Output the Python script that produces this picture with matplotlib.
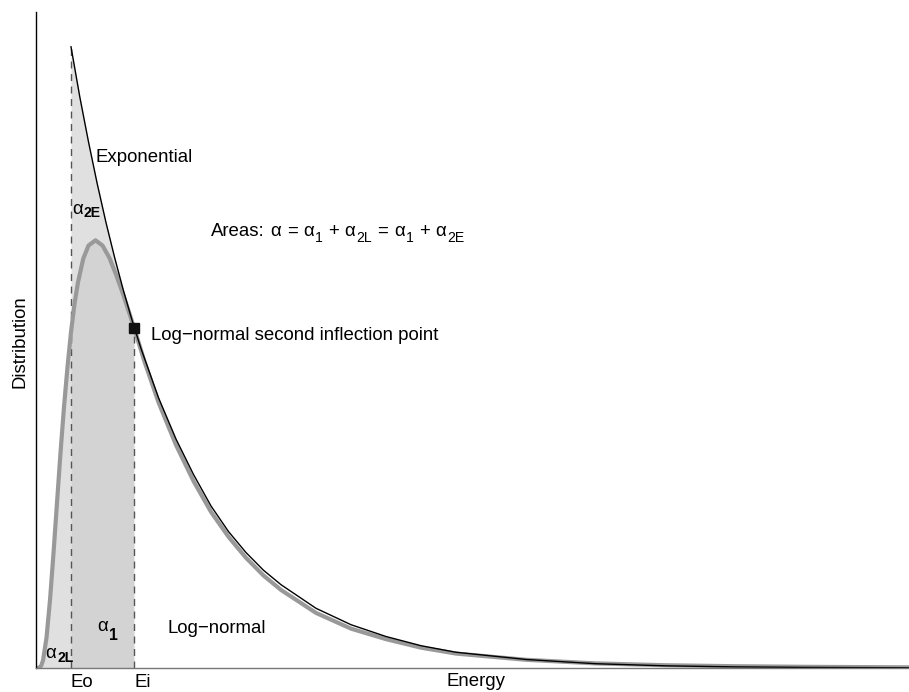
import numpy as np
import matplotlib.pyplot as plt
from matplotlib.font_manager import FontProperties

plt.rcParams['font.family'] = ['Liberation Sans', 'DejaVu Sans']

# energy positions of the two marked levels
e_o = 1.0
e_i = 2.8

# exponential curve (starts at Eo)
exp_x = [1.0, 1.25, 1.5, 1.75, 2.0, 2.25, 2.5, 2.75, 3.0, 3.5, 4.0, 4.5, 5.0,
         5.5, 6.0, 6.5, 7.0, 8.0, 9.0, 10.0, 11.0, 12.0, 14.0, 16.0, 18.0,
         20.0, 22.0, 25.0]
exp_y = [0.947, 0.871, 0.802, 0.738, 0.679, 0.625, 0.575, 0.529, 0.487,
         0.412, 0.349, 0.295, 0.247, 0.208, 0.176, 0.149, 0.127, 0.091,
         0.066, 0.048, 0.034, 0.024, 0.013, 0.0065, 0.0033, 0.0017, 0.0009,
         0.0003]

# log-normal curve
ln_x = [0.0, 0.05, 0.1, 0.15, 0.2, 0.3, 0.4, 0.5, 0.6, 0.7, 0.8, 0.9, 1.0,
        1.1, 1.2, 1.35, 1.5, 1.7, 1.9, 2.1, 2.3, 2.5, 2.8, 3.1, 3.5, 4.0,
        4.5, 5.0, 5.5, 6.0, 6.5, 7.0, 8.0, 9.0, 10.0, 11.0, 12.0, 14.0,
        16.0, 18.0, 20.0, 22.0, 25.0]
ln_y = [0.0, 0.0, 0.0005, 0.0036, 0.0115, 0.046, 0.1035, 0.175, 0.252,
        0.328, 0.398, 0.459, 0.512, 0.555, 0.588, 0.624, 0.644, 0.652,
        0.644, 0.625, 0.598, 0.568, 0.519, 0.467, 0.405, 0.340, 0.285,
        0.238, 0.200, 0.168, 0.141, 0.119, 0.084, 0.060, 0.044, 0.031,
        0.022, 0.0125, 0.0070, 0.0042, 0.0027, 0.0018, 0.0010]

exp_x = np.array(exp_x)
exp_y = np.array(exp_y)
ln_x = np.array(ln_x)
ln_y = np.array(ln_y)
y_i = ln_y[ln_x == e_i][0]

light = '#e0e0e0'
dark = '#d3d3d3'
fs = 13.4

fig = plt.figure(figsize=(9.09, 6.92), dpi=100)
ax = fig.add_axes([36 / 909, 24 / 692, 873 / 909, 656 / 692])
renderer = fig.canvas.get_renderer()


def run_text(x, y, pieces, sub_size=0.75, sub_drop=4.5, sub_weight='normal'):
    """Write text pieces one after another; ('s', txt) is a subscript,
    (' ', None) a word gap."""
    off = 0.0
    for kind, txt in pieces:
        if kind == ' ':
            off += 0.26 * fs
            continue
        sub = kind == 's'
        size = fs * sub_size if sub else fs
        weight = sub_weight if sub else 'normal'
        ax.annotate(txt, (x, y), xytext=(off, -sub_drop if sub else 0),
                    textcoords='offset points', va='baseline',
                    fontsize=size, fontweight=weight)
        prop = FontProperties(family=['Liberation Sans'], size=size,
                              weight=weight)
        w, _, _ = renderer.get_text_width_height_descent(txt, prop, False)
        off += w * 72 / fig.dpi + 0.6


# shaded areas
m = ln_x <= e_o
ax.fill_between(ln_x[m], 0, ln_y[m], color=light, lw=0)
m = exp_x <= e_i
ax.fill_between(exp_x[m], 0, exp_y[m], color=light, lw=0)
m = (ln_x >= e_o) & (ln_x <= e_i)
ax.fill_between(ln_x[m], 0, ln_y[m], color=dark, lw=0)

ax.vlines([e_o], 0, exp_y[0], colors='#555555', lw=1, linestyles=(0, (5, 4)))
ax.vlines([e_i], 0, y_i, colors='#555555', lw=1, linestyles=(0, (5, 4)))

ax.plot(ln_x, ln_y, color='#999999', lw=3, solid_capstyle='butt')
ax.plot(exp_x, exp_y, color='black', lw=1)
ax.plot([e_i], [y_i], 's', color='#111111', ms=7)

ax.text(3.277, 0.50, 'Log\u2212normal second inflection point', fontsize=fs)
ax.text(1.714, 0.771, 'Exponential', fontsize=fs)
ax.text(3.77, 0.053, 'Log\u2212normal', fontsize=fs)

run_text(5.0, 0.6585, [
    ('m', 'Areas:'), (' ', None), ('m', '\u03b1'), (' ', None), ('m', '='),
    (' ', None), ('m', '\u03b1'), ('s', '1'), (' ', None), ('m', '+'),
    (' ', None), ('m', '\u03b1'), ('s', '2L'), (' ', None), ('m', '='),
    (' ', None), ('m', '\u03b1'), ('s', '1'), (' ', None), ('m', '+'),
    (' ', None), ('m', '\u03b1'), ('s', '2E')])
run_text(1.03, 0.692, [('m', '\u03b1'), ('s', '2E')],
         sub_drop=2.0, sub_weight='bold')
run_text(1.743, 0.056, [('m', '\u03b1'), ('s', '1')],
         sub_size=0.85, sub_drop=6.0, sub_weight='bold')
run_text(0.27, 0.015, [('m', '\u03b1'), ('s', '2L')],
         sub_drop=3.0, sub_weight='bold')

ax.set_xlim(0, 873 / 35)
ax.set_ylim(0, 1)
for s in ['top', 'right']:
    ax.spines[s].set_visible(False)
ax.spines['left'].set_linewidth(1)
ax.spines['bottom'].set_linewidth(1)
ax.spines['bottom'].set_color('#777777')
ax.set_yticks([])
ax.set_xticks([e_o, e_i])
ax.set_xticklabels(['Eo', 'Ei'], fontsize=fs)
for t in ax.get_xticklabels():
    t.set_ha('left')
ax.tick_params(axis='x', length=0, pad=4)
ax.set_xlabel('Energy', fontsize=fs)
ax.xaxis.set_label_coords(0.5035, -0.0274)
ax.xaxis.label.set_va('baseline')
ax.set_ylabel('Distribution', fontsize=fs)
ax.yaxis.set_label_coords(-0.0189, 0.497)
ax.yaxis.label.set_va('center')

fig.savefig('out.png', dpi=100)
